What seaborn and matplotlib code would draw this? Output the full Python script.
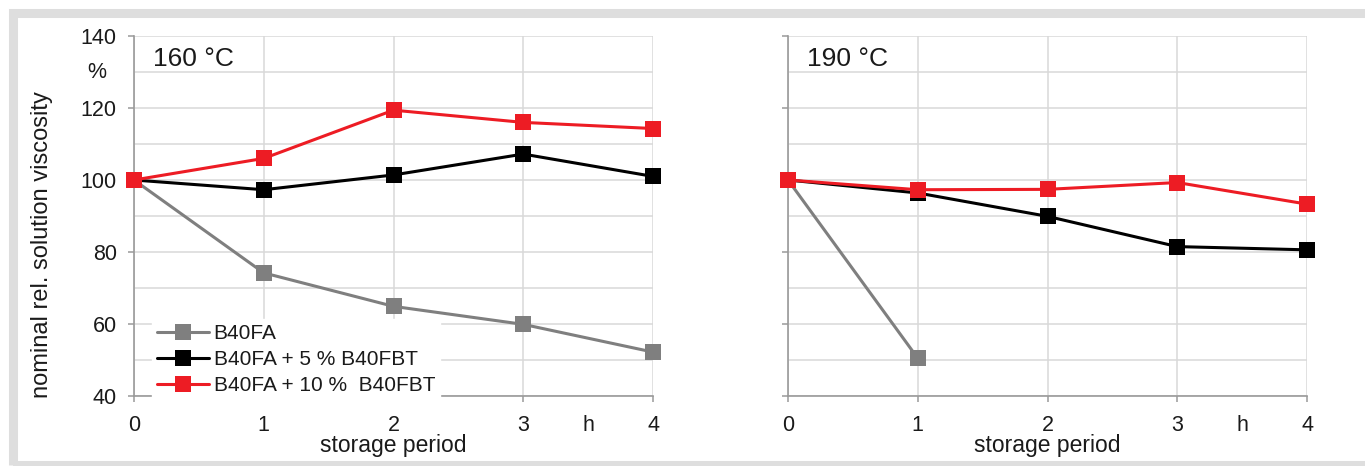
import numpy as np
import pandas as pd
import seaborn as sns
import matplotlib.pyplot as plt
from matplotlib.patches import Rectangle
from matplotlib.transforms import blended_transform_factory

# ── data ──────────────────────────────────────────────────────────────────────
hours = [0, 1, 2, 3, 4]
hours_190_b40fa = [0, 1]

b40fa_160 = [100, 74.2, 64.9, 59.9, 52.2]
b5_160 = [100, 97.3, 101.4, 107.2, 101.0]
b10_160 = [100, 106.0, 119.4, 116.0, 114.3]

b40fa_190 = [100, 50.5]
b5_190 = [100, 96.4, 89.9, 81.5, 80.6]
b10_190 = [100, 97.3, 97.4, 99.3, 93.3]

series_names = ["B40FA", "B40FA + 5 % B40FBT", "B40FA + 10 %  B40FBT"]
temps = ["160 °C", "190 °C"]
y_ticks = [40, 60, 80, 100, 120, 140]
y_minor = [50, 70, 90, 110, 130]
COLORS = ["#7f7f7f", "#000000", "#ed1c24"]

# ── style ─────────────────────────────────────────────────────────────────────
sns.set_theme(style="whitegrid")
plt.rcParams["font.family"] = ["Liberation Sans", "DejaVu Sans"]
TXT = "#1a1a1a"
GRID = "#d9d9d9"
SPINE = "#9a9a9a"
TICK_FS = 15.5

fig = plt.figure(figsize=(13.65, 4.66), dpi=100)
fig.patch.set_facecolor("white")
fig.patches.append(Rectangle((12.5 / 1365, 1 / 466), 1.0, 452 / 466,
                             transform=fig.transFigure, fill=False,
                             edgecolor="#dedede", linewidth=6.5, zorder=0))

ax1 = fig.add_axes([134 / 1365, 70 / 466, 519 / 1365, 360 / 466])
ax2 = fig.add_axes([788 / 1365, 70 / 466, 519 / 1365, 360 / 466])

panels = [
    (ax1, [(hours, b40fa_160), (hours, b5_160), (hours, b10_160)]),
    (ax2, [(hours_190_b40fa, b40fa_190), (hours, b5_190), (hours, b10_190)]),
]

for ax, data in panels:
    for (xs, ys), name, col in zip(data, series_names, COLORS):
        sns.lineplot(x=xs, y=ys, ax=ax, color=col, linewidth=2.2,
                     marker="s", markersize=11, markeredgewidth=0,
                     label=name, clip_on=False, zorder=3)

for i, ax in enumerate([ax1, ax2]):
    ax.set_facecolor("white")
    ax.set_xlim(0, 4)
    ax.set_ylim(40, 140)
    ax.set_xticks(hours)
    ax.set_xticks([3.5], minor=True)
    ax.set_xticklabels(["h"], minor=True)
    ax.set_yticks(y_ticks)
    ax.set_yticks(y_minor, minor=True)
    ax.grid(False)
    ax.grid(which="major", axis="x", color=GRID, linewidth=1.1)
    ax.grid(which="both", axis="y", color=GRID, linewidth=1.1)
    for s in ["top", "right"]:
        ax.spines[s].set_visible(False)
    for s in ["left", "bottom"]:
        ax.spines[s].set_color(SPINE)
        ax.spines[s].set_linewidth(1.2)
    ax.tick_params(axis="both", which="major", direction="out", length=4.5,
                   width=1.1, color=SPINE, labelsize=TICK_FS, labelcolor=TXT,
                   bottom=True, left=True)
    ax.tick_params(axis="x", which="major", pad=9)
    ax.tick_params(axis="y", which="major", pad=8)
    ax.tick_params(axis="x", which="minor", length=0, labelsize=TICK_FS,
                   labelcolor=TXT, pad=13.5, bottom=True)
    ax.tick_params(axis="y", which="minor", length=0, left=False)
    ax.set_xlabel("storage period", fontsize=16.5, color=TXT, labelpad=-1)
    ax.text(0.037, 0.935, temps[i], transform=ax.transAxes, fontsize=19,
            color=TXT, ha="left", va="center")
    if ax.get_legend() is not None:
        ax.get_legend().remove()

ax2.set_yticklabels([])

ax1.set_ylabel("nominal rel. solution viscosity", fontsize=17, color=TXT)
ax1.yaxis.set_label_coords(-0.156, 0.42)
tr = blended_transform_factory(ax1.transAxes, ax1.transData)
ax1.text(-0.072, 130, "%", transform=tr, fontsize=TICK_FS, color=TXT,
         ha="center", va="center")

handles, labels = ax1.get_lines()[:3], series_names
leg = ax1.legend(handles, labels, loc="upper left",
                 bbox_to_anchor=(0.035, 0.215), borderaxespad=0,
                 fontsize=15, handlelength=2.5, handletextpad=0.2,
                 labelspacing=0.35, borderpad=0.25, frameon=True,
                 facecolor="white", edgecolor="white", framealpha=1,
                 fancybox=False)
for t in leg.get_texts():
    t.set_color(TXT)
leg.set_zorder(4)

fig.savefig("out.png", dpi=100, facecolor="white")
